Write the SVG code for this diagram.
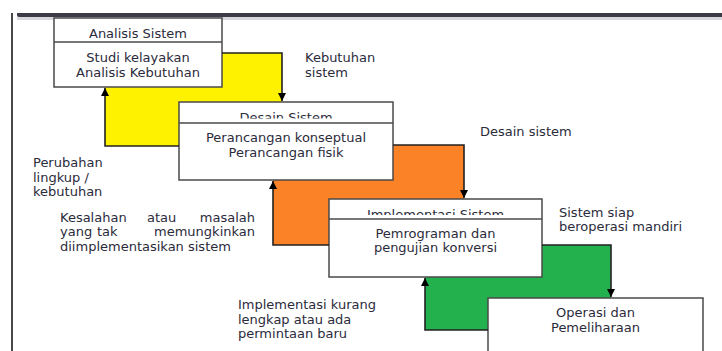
<svg xmlns="http://www.w3.org/2000/svg" width="722" height="351" viewBox="0 0 722 351">
<style>
text{font-family:"DejaVu Sans","Verdana",sans-serif;font-size:13px;fill:#2b2b3b;}
.c{text-anchor:middle;}
.e{text-anchor:end;}
.box{fill:#fff;stroke:#4a4a4a;stroke-width:1.5;}
.div{stroke:#4a4a4a;stroke-width:1.5;}
.flow{fill:none;stroke:#222;stroke-width:1.6;}
</style>
<defs>
<marker id="ah" markerUnits="userSpaceOnUse" markerWidth="9" markerHeight="8" refX="8" refY="4" orient="auto">
<path d="M0,0 L8,4 L0,8 z" fill="#000"/>
</marker>
<clipPath id="clip2"><rect x="179" y="102" width="214" height="16.5"/></clipPath>
<clipPath id="clip3"><rect x="329" y="199" width="213" height="16"/></clipPath>
</defs>
<rect x="0" y="0" width="722" height="351" fill="#fff"/>
<!-- frame -->
<rect x="17" y="17" width="705" height="3" fill="#d8d8dc"/>
<path d="M17,13 H722 V17 H19 Q17,17 17,15 Z" fill="#3c3c46"/>
<line x1="12" y1="13" x2="12" y2="351" stroke="#333" stroke-width="1.8"/>
<!-- colored bands -->
<g id="bands">
<polygon points="105,87 222,87 222,53 282,53 282,146 105,146" fill="#fff200"/>
<polygon points="273,180 393,180 393,145 464,145 464,245 273,245" fill="#fb8226"/>
<polygon points="425,277 542,277 542,245 611,245 611,330 425,330" fill="#23b14d"/>
</g>
<g id="analisis">
<rect class="box" x="54" y="18" width="168" height="69"/>
<line class="div" x1="54" y1="42" x2="222" y2="42"/>
<text class="c" x="138" y="37.5">Analisis Sistem</text>
<text class="c" x="138" y="61.5">Studi kelayakan</text>
<text class="c" x="138" y="76.5">Analisis Kebutuhan</text>
</g>
<g id="desain">
<rect class="box" x="179" y="102" width="214" height="78"/>
<line class="div" x1="179" y1="123" x2="393" y2="123"/>
<text class="c" x="286" y="122" clip-path="url(#clip2)">Desain Sistem</text>
<text class="c" x="286" y="141.5">Perancangan konseptual</text>
<text class="c" x="286" y="156.5">Perancangan fisik</text>
</g>
<g id="implementasi">
<rect class="box" x="329" y="199" width="213" height="78"/>
<line class="div" x1="329" y1="219" x2="542" y2="219"/>
<text class="c" x="435.5" y="218.5" clip-path="url(#clip3)">Implementasi Sistem</text>
<text class="c" x="435.5" y="238">Pemrograman dan</text>
<text class="c" x="435.5" y="252">pengujian konversi</text>
</g>
<g id="operasi">
<rect class="box" x="488" y="298" width="215" height="70"/>
<text class="c" x="595.5" y="316.5">Operasi dan</text>
<text class="c" x="595.5" y="331.5">Pemeliharaan</text>
</g>
<g id="connectors">
<path class="flow" d="M179,146 H105 V88" marker-end="url(#ah)"/>
<path class="flow" d="M222,53 H282 V101" marker-end="url(#ah)"/>
<path class="flow" d="M329,245 H273 V181" marker-end="url(#ah)"/>
<path class="flow" d="M393,145 H464 V198" marker-end="url(#ah)"/>
<path class="flow" d="M488,330 H425 V278" marker-end="url(#ah)"/>
<path class="flow" d="M542,245 H611 V297" marker-end="url(#ah)"/>
</g>
<g id="labels">
<text x="305" y="61.5">Kebutuhan</text>
<text x="305" y="76.5">sistem</text>
<text x="480" y="135.5">Desain sistem</text>
<text x="33" y="166.5">Perubahan</text>
<text x="33" y="181.5">lingkup /</text>
<text x="33" y="195.5">kebutuhan</text>
<text x="60" y="221.5">Kesalahan</text>
<text x="147" y="221.5">atau</text>
<text class="e" x="255" y="221.5">masalah</text>
<text x="60" y="236">yang</text>
<text x="97" y="236">tak</text>
<text class="e" x="255" y="236">memungkinkan</text>
<text x="60" y="250.5">diimplementasikan sistem</text>
<text x="559" y="216.5">Sistem siap</text>
<text x="559" y="230.5">beroperasi mandiri</text>
<text x="238" y="308.5">Implementasi kurang</text>
<text x="238" y="323.5">lengkap atau ada</text>
<text x="238" y="337.5">permintaan baru</text>
</g>
</svg>
